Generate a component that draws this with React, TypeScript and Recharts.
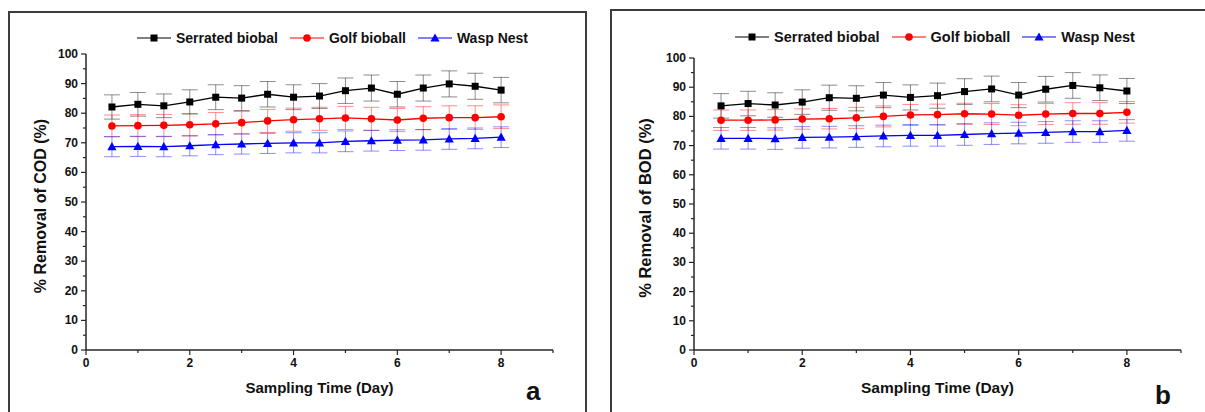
import React from 'react';
import { LineChart, Line, XAxis, YAxis, ErrorBar } from 'recharts';

// sampling days
const days = [0.5, 1, 1.5, 2, 2.5, 3, 3.5, 4, 4.5, 5, 5.5, 6, 6.5, 7, 7.5, 8];

// COD removal (%)
const codSerrated = [82.1, 83.0, 82.5, 83.8, 85.4, 85.1, 86.4, 85.4, 85.8, 87.6, 88.5, 86.4, 88.5, 89.9, 89.1, 87.8];
const codSerratedErr = [4.1, 4.0, 4.0, 4.1, 4.2, 4.2, 4.3, 4.2, 4.2, 4.3, 4.4, 4.3, 4.4, 4.4, 4.4, 4.3];
const codGolf = [75.7, 75.8, 75.9, 76.1, 76.4, 76.8, 77.4, 77.8, 78.1, 78.4, 78.1, 77.7, 78.3, 78.5, 78.5, 78.8];
const codGolfErr = [3.7, 3.7, 3.7, 3.8, 3.8, 3.8, 3.9, 3.9, 3.9, 3.9, 3.9, 3.9, 3.9, 4.0, 4.0, 4.0];
const codWasp = [68.7, 68.8, 68.7, 69.0, 69.4, 69.6, 69.8, 70.0, 70.0, 70.5, 70.7, 70.9, 71.0, 71.3, 71.5, 71.9];
const codWaspErr = [3.4, 3.4, 3.4, 3.4, 3.4, 3.4, 3.4, 3.4, 3.4, 3.5, 3.5, 3.5, 3.5, 3.5, 3.5, 3.5];

// BOD removal (%)
const bodSerrated = [83.6, 84.4, 83.9, 84.9, 86.4, 86.2, 87.3, 86.5, 87.1, 88.5, 89.4, 87.3, 89.3, 90.6, 89.8, 88.7];
const bodSerratedErr = [4.2, 4.2, 4.2, 4.2, 4.3, 4.3, 4.3, 4.3, 4.3, 4.4, 4.4, 4.3, 4.4, 4.4, 4.4, 4.3];
const bodGolf = [78.7, 78.7, 78.8, 79.1, 79.2, 79.5, 80.0, 80.5, 80.6, 80.9, 80.8, 80.4, 80.8, 81.0, 81.0, 81.4];
const bodGolfErr = [3.5, 3.5, 3.5, 3.5, 3.5, 3.6, 3.6, 3.6, 3.6, 3.6, 3.6, 3.6, 3.6, 3.7, 3.7, 3.7];
const bodWasp = [72.5, 72.5, 72.4, 72.8, 72.9, 73.1, 73.3, 73.5, 73.5, 73.8, 74.1, 74.3, 74.5, 74.8, 74.8, 75.2];
const bodWaspErr = [3.7, 3.7, 3.7, 3.7, 3.7, 3.7, 3.7, 3.7, 3.7, 3.7, 3.7, 3.7, 3.7, 3.7, 3.7, 3.7];

const seriesNames = ['Serrated biobal', 'Golf bioball', 'Wasp Nest'];
const yTicks = [0, 5, 10, 15, 20, 25, 30, 35, 40, 45, 50, 55, 60, 65, 70, 75, 80, 85, 90, 95, 100];
const xTicks = [0, 1, 2, 3, 4, 5, 6, 7, 8, 9];

const FONT = '"Liberation Sans", Arial, sans-serif';
const AXIS = '#262626';
const H = 412;
const PLOT_BOTTOM = 350;

const colors = ['#000000', '#ff0000', '#0000ff'];
const errColors = ['rgba(0,0,0,0.45)', 'rgba(255,0,0,0.45)', 'rgba(0,0,255,0.45)'];

const buildRows = (s: number[], se: number[], g: number[], ge: number[], w: number[], we: number[]) =>
  days.map((d, i) => ({ day: d, s: s[i], se: se[i], g: g[i], ge: ge[i], w: w[i], we: we[i] }));

const codRows = buildRows(codSerrated, codSerratedErr, codGolf, codGolfErr, codWasp, codWaspErr);
const bodRows = buildRows(bodSerrated, bodSerratedErr, bodGolf, bodGolfErr, bodWasp, bodWaspErr);

const Marker = ({ kind, cx, cy, color }: any) => {
  if (kind === 0) return <rect x={cx - 3.5} y={cy - 3.5} width={7} height={7} fill={color} />;
  if (kind === 1) return <circle cx={cx} cy={cy} r={3.8} fill={color} />;
  return <polygon points={`${cx},${cy - 4.6} ${cx - 4.6},${cy + 3.6} ${cx + 4.6},${cy + 3.6}`} fill={color} />;
};

const makeDot = (kind: number) => (p: any) => (
  <g key={`d${kind}-${p.index}`}>
    <Marker kind={kind} cx={p.cx} cy={p.cy} color={colors[kind]} />
  </g>
);

const YTick = (p: any) => {
  const { x, y, payload } = p;
  const major = payload.value % 10 === 0;
  return (
    <g>
      <line x1={x} x2={x - (major ? 5 : 3)} y1={y} y2={y} stroke={AXIS} strokeWidth={1.2} />
      {major && (
        <text x={x - 8} y={y} textAnchor="end" dominantBaseline="central" fontSize={12} fontWeight="bold" fontFamily={FONT} fill="#111">
          {payload.value}
        </text>
      )}
    </g>
  );
};

const XTick = (p: any) => {
  const { x, y, payload } = p;
  const major = payload.value % 2 === 0 && payload.value <= 8;
  return (
    <g>
      <line x1={x} x2={x} y1={y} y2={y + (major ? 5 : 3)} stroke={AXIS} strokeWidth={1.2} />
      {major && (
        <text x={x} y={y + 17} textAnchor="middle" fontSize={12} fontWeight="bold" fontFamily={FONT} fill="#111">
          {payload.value}
        </text>
      )}
    </g>
  );
};

const Legend = ({ left, top, size, gap }: any) => (
  <div style={{ position: 'absolute', left, top, display: 'flex', alignItems: 'center', fontFamily: FONT, fontWeight: 'bold', fontSize: size, color: '#111', whiteSpace: 'nowrap' }}>
    {seriesNames.map((n, i) => (
      <div key={n} style={{ display: 'flex', alignItems: 'center', marginRight: gap }}>
        <svg width={34} height={12} style={{ marginRight: 5 }}>
          <line x1={0} x2={34} y1={6} y2={6} stroke={colors[i]} strokeWidth={1.2} />
          <Marker kind={i} cx={17} cy={6} color={colors[i]} />
        </svg>
        <span>{n}</span>
      </div>
    ))}
  </div>
);

type PanelProps = {
  rows: any[];
  chartLeft: number;
  chartWidth: number;
  plotLeft: number;
  plotRight: number;
  plotTop: number;
  frame: { left: number; top: number; width: number };
  yTitle: string;
  titleOffset: number;
  titleSize: number;
  letter: string;
  letterPos: { left: number; top: number };
  legendPos: { left: number; top: number; size: number; gap: number };
};

const Panel = (p: PanelProps) => {
  const yAxisW = 50;
  const xAxisH = 50;
  return (
    <>
      <div style={{ position: 'absolute', left: p.frame.left, top: p.frame.top, width: p.frame.width, height: H, border: '2px solid #3c3c3c', boxSizing: 'border-box' }} />
      <div style={{ position: 'absolute', left: p.chartLeft, top: 0 }}>
        <LineChart
          width={p.chartWidth}
          height={H}
          data={p.rows}
          margin={{ top: p.plotTop, right: p.chartWidth - p.plotRight, left: p.plotLeft - yAxisW, bottom: H - PLOT_BOTTOM - xAxisH }}
        >
          <XAxis
            dataKey="day"
            type="number"
            domain={[0, 9]}
            ticks={xTicks}
            interval={0}
            height={xAxisH}
            tickSize={0}
            tickMargin={0}
            tickLine={false}
            tick={<XTick />}
            axisLine={{ stroke: AXIS, strokeWidth: 1.5 }}
            label={{
              content: ({ viewBox }: any) => (
                <text x={viewBox.x + viewBox.width / 2} y={viewBox.y + 43} textAnchor="middle" fontSize={p.titleSize - 1} fontWeight="bold" fontFamily={FONT} fill="#111">
                  Sampling Time (Day)
                </text>
              ),
            }}
          />
          <YAxis
            type="number"
            domain={[0, 100]}
            ticks={yTicks}
            interval={0}
            width={yAxisW}
            tickSize={0}
            tickMargin={0}
            tickLine={false}
            tick={<YTick />}
            axisLine={{ stroke: AXIS, strokeWidth: 1.5 }}
            label={{
              content: ({ viewBox }: any) => {
                const cx = viewBox.x + p.titleOffset;
                const cy = viewBox.y + viewBox.height / 2 + 4;
                return (
                  <text x={cx} y={cy} transform={`rotate(-90 ${cx} ${cy})`} textAnchor="middle" dominantBaseline="central" fontSize={p.titleSize} fontWeight="bold" fontFamily={FONT} fill="#111">
                    {p.yTitle}
                  </text>
                );
              },
            }}
          />
          {(['s', 'g', 'w'] as const).map((k, i) => (
            <Line
              key={k}
              dataKey={k}
              stroke={colors[i]}
              strokeWidth={1.3}
              dot={makeDot(i)}
              activeDot={false}
              isAnimationActive={false}
            >
              <ErrorBar dataKey={`${k}e`} width={8} stroke={errColors[i]} strokeWidth={1} direction="y" />
            </Line>
          ))}
        </LineChart>
      </div>
      <Legend left={p.legendPos.left} top={p.legendPos.top} size={p.legendPos.size} gap={p.legendPos.gap} />
      <div style={{ position: 'absolute', left: p.letterPos.left, top: p.letterPos.top, fontFamily: FONT, fontWeight: 'bold', fontSize: 26, color: '#111' }}>
        {p.letter}
      </div>
    </>
  );
};

export default function App() {
  return (
    <div style={{ position: 'absolute', left: 0, top: 0, width: 1205, height: H, overflow: 'hidden', background: '#fff' }}>
      <Panel
        rows={codRows}
        chartLeft={0}
        chartWidth={600}
        plotLeft={86}
        plotRight={553}
        plotTop={54}
        frame={{ left: 8, top: 11, width: 579 }}
        yTitle="% Removal of COD (%)"
        titleOffset={4}
        titleSize={16}
        letter="a"
        letterPos={{ left: 526, top: 376 }}
        legendPos={{ left: 137, top: 30, size: 14, gap: 12 }}
      />
      <Panel
        rows={bodRows}
        chartLeft={600}
        chartWidth={605}
        plotLeft={94}
        plotRight={581}
        plotTop={58}
        frame={{ left: 610, top: 9, width: 620 }}
        yTitle="% Removal of BOD (%)"
        titleOffset={1}
        titleSize={16.5}
        letter="b"
        letterPos={{ left: 1155, top: 380 }}
        legendPos={{ left: 735, top: 29, size: 14.5, gap: 12 }}
      />
    </div>
  );
}
